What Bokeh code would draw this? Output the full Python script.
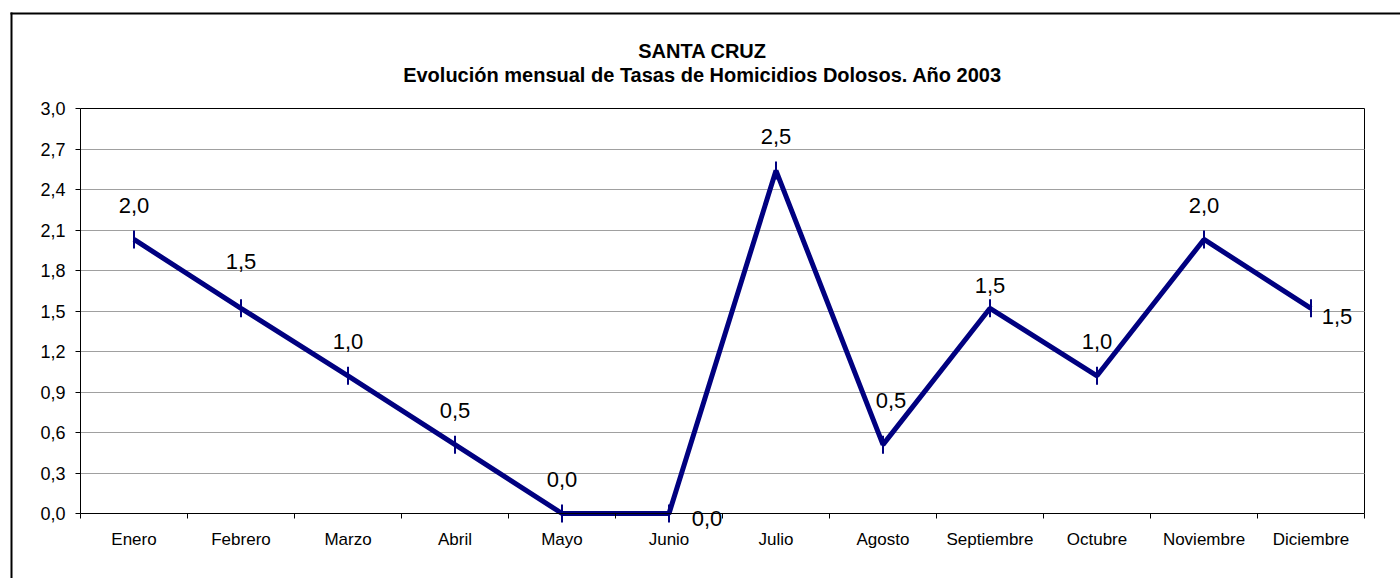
import math
from bokeh.plotting import figure
from bokeh.models import (ColumnDataSource, LabelSet, Label, FixedTicker,
                          CustomJSTickFormatter, Range1d, LinearAxis)
from bokeh.core.properties import value
from bokeh.embed import file_html
from bokeh.resources import INLINE

# ---- data ----
months = ["Enero", "Febrero", "Marzo", "Abril", "Mayo", "Junio", "Julio",
          "Agosto", "Septiembre", "Octubre", "Noviembre", "Diciembre"]
rates = [2.03, 1.52, 1.02, 0.51, 0.0, 0.0, 2.54, 0.51, 1.52, 1.02, 2.03, 1.52]
y_ticks = [0.0, 0.3, 0.6, 0.9, 1.2, 1.5, 1.8, 2.1, 2.4, 2.7, 3.0]
title_line1 = "SANTA CRUZ"
title_line2 = "Evolución mensual de Tasas de Homicidios Dolosos. Año 2003"

FONT = "Liberation Sans"
NAVY = "#000080"
GRID = "#a0a0a0"
W, H = 1400, 578

# ---- layout (page pixels) ----
X0_PX, PX_PER_CAT = 80, 107          # left edge of plot area, width per month
Y0_PX, PX_PER_UNIT = 513, 135         # baseline (value 0) and pixels per unit
N = len(months)
Y_MAX = 3.0
PLOT_W_PX = N * PX_PER_CAT


def to_x(px):
    return (px - X0_PX) / PX_PER_CAT


def to_y(py):
    return (Y0_PX - py) / PX_PER_UNIT


xs = [i + 0.5 for i in range(N)]
labels = [f"{v:.1f}".replace(".", ",") for v in rates]

# label placement (layout only): (dx, dy) in pixels
nudge = {"Junio": (38, -5), "Diciembre": (26, -8), "Septiembre": (0, 23),
         "Febrero": (0, 47), "Agosto": (8, 44)}
dx = [nudge.get(m, (0, 34))[0] for m in months]
dy = [nudge.get(m, (0, 34))[1] for m in months]

src = ColumnDataSource(dict(x=xs, y=rates, txt=labels, dx=dx, dy=dy))

p = figure(width=W, height=H, output_backend="svg", toolbar_location=None,
           title=None, x_axis_location=None, y_axis_location=None,
           x_range=Range1d(to_x(0), to_x(W)), y_range=Range1d(to_y(H), to_y(0)),
           min_border=0, min_border_left=0, min_border_right=0,
           min_border_top=0, min_border_bottom=0)
p.background_fill_color = "white"
p.border_fill_color = "white"
p.outline_line_color = None
p.xgrid.visible = False
p.ygrid.visible = False

# horizontal gridlines + right border of plot area (axis at the right edge,
# long inward ticks reaching across the plot area)
gax = LinearAxis(fixed_location=N, bounds=(0, Y_MAX),
                 ticker=FixedTicker(ticks=y_ticks[1:-1], minor_ticks=[]),
                 major_tick_in=PLOT_W_PX, major_tick_out=0,
                 major_tick_line_color=GRID, major_tick_line_width=1,
                 major_label_text_color=None, axis_line_color="black",
                 level="underlay")
p.add_layout(gax, "right")

# top border of plot area
tax = LinearAxis(fixed_location=Y_MAX, bounds=(0, N), ticker=FixedTicker(ticks=[]),
                 major_tick_out=0, major_tick_in=0, axis_line_color="black",
                 level="underlay")
p.add_layout(tax, "above")

# outer chart frame (left and top edges; the rest lies outside the picture)
fl = LinearAxis(fixed_location=to_x(11), bounds=(to_y(H + 5), to_y(12)),
                ticker=FixedTicker(ticks=[]), major_tick_out=0, major_tick_in=0,
                axis_line_color="black", axis_line_width=2)
p.add_layout(fl, "left")
ft = LinearAxis(fixed_location=to_y(13), bounds=(to_x(10), to_x(W + 5)),
                ticker=FixedTicker(ticks=[]), major_tick_out=0, major_tick_in=0,
                axis_line_color="black", axis_line_width=2)
p.add_layout(ft, "above")

# y axis
ya = LinearAxis(fixed_location=0, bounds=(0, Y_MAX),
                ticker=FixedTicker(ticks=y_ticks, minor_ticks=[]),
                formatter=CustomJSTickFormatter(
                    code="return tick.toFixed(1).replace('.', ',');"),
                major_tick_out=5, major_tick_in=0, major_label_standoff=10,
                major_label_text_font=FONT, major_label_text_font_size="18px",
                major_label_text_color="black", axis_line_color="black",
                major_tick_line_color="black")
p.add_layout(ya, "left")

# x axis at value 0 (labels at centers, ticks at boundaries)
xa = LinearAxis(fixed_location=0, bounds=(0, N),
                ticker=FixedTicker(ticks=xs, minor_ticks=list(range(N + 1))),
                formatter=CustomJSTickFormatter(
                    args=dict(labels=months),
                    code="return labels[Math.floor(tick)];"),
                major_tick_out=0, major_tick_in=0,
                minor_tick_out=5, minor_tick_in=0, minor_tick_line_color="black",
                major_label_standoff=11, major_label_text_font=FONT,
                major_label_text_font_size="17px", major_label_text_color="black",
                axis_line_color="black")
p.add_layout(xa, "below")

p.line("x", "y", source=src, line_color=NAVY, line_width=5)
p.scatter("x", "y", source=src, marker="dash", angle=math.pi / 2, size=18,
          line_color=NAVY, line_width=2)

p.add_layout(LabelSet(x="x", y="y", text="txt", source=src, x_offset="dx",
                      y_offset="dy", text_align="center", text_baseline="middle",
                      text_font=value(FONT), text_font_size=value("22px"),
                      text_color="black"))

# titles (screen units: x from left, y up from the bottom of the drawing area)
p.add_layout(Label(x=702, y=H - 50, x_units="screen", y_units="screen",
                   text=title_line1, text_align="center", text_baseline="middle",
                   text_font=FONT, text_font_size="20px", text_font_style="bold",
                   text_color="black"))
p.add_layout(Label(x=702, y=H - 74, x_units="screen", y_units="screen",
                   text=title_line2, text_align="center", text_baseline="middle",
                   text_font=FONT, text_font_size="20px", text_font_style="bold",
                   text_color="black"))

open("out.html", "w").write(file_html(p, INLINE))
